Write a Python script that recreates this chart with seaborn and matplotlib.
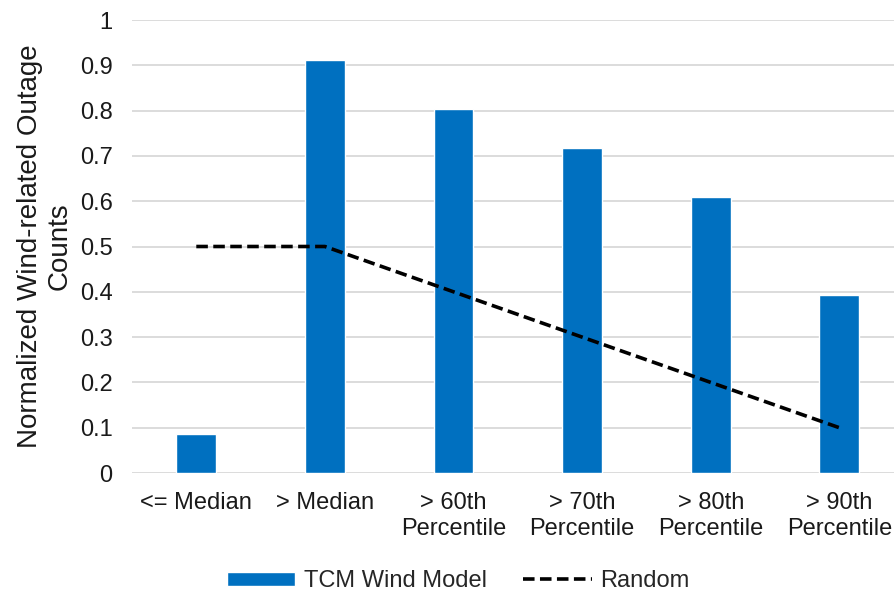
import matplotlib
matplotlib.use("Agg")
import matplotlib.pyplot as plt
import seaborn as sns
import pandas as pd
import numpy as np

categories = ["<= Median", "> Median", "> 60th\nPercentile", "> 70th\nPercentile",
              "> 80th\nPercentile", "> 90th\nPercentile"]
tcm_values = [0.087, 0.912, 0.804, 0.717, 0.609, 0.392]
random_values = [0.5, 0.5, 0.4, 0.3, 0.2, 0.1]
y_ticks = [0, 0.1, 0.2, 0.3, 0.4, 0.5, 0.6, 0.7, 0.8, 0.9, 1]
y_tick_labels = ["0", "0.1", "0.2", "0.3", "0.4", "0.5", "0.6", "0.7", "0.8", "0.9", "1"]

sns.set_style("white")
plt.rcParams['font.family'] = ['Liberation Sans', 'DejaVu Sans']

df = pd.DataFrame({"cat": categories, "tcm": tcm_values, "rnd": random_values})

fig = plt.figure(figsize=(8.95, 5.95), dpi=100)
ax = fig.add_axes([132/895, (595-473)/595, (895-132)/895, (473-20)/595])

bar_color = "#0070C0"
sns.barplot(data=df, x="cat", y="tcm", color=bar_color, width=0.31, ax=ax,
            saturation=1, label="TCM Wind Model", zorder=2)
sns.lineplot(x=np.arange(len(categories)), y=df["rnd"], ax=ax, color="black",
             linestyle=(0, (3.2, 1.5)), linewidth=2.6, label="Random", zorder=3)

FS = 17
ax.set_ylim(0, 1)
ax.set_xlim(-0.5, (895-132)/128.6 - 0.5)
ax.set_yticks(y_ticks)
ax.set_yticklabels(y_tick_labels)
ax.set_xticks(range(len(categories)))
ax.set_xticklabels(categories, fontsize=FS, color="#1a1a1a")
ax.tick_params(axis="y", labelsize=FS, colors="#1a1a1a", length=0, pad=14)
ax.tick_params(axis="x", length=0, pad=14)
ax.yaxis.grid(True, color="#d9d9d9", linewidth=1.3, zorder=0)
ax.set_axisbelow(True)
for s in ax.spines.values():
    s.set_visible(False)
ax.set_xlabel("")
ax.set_ylabel("Normalized Wind-related Outage\nCounts", fontsize=20, color="#1a1a1a",
              labelpad=5, linespacing=1.2)

handles, labels = ax.get_legend_handles_labels()
order = [labels.index("TCM Wind Model"), labels.index("Random")]
leg = ax.legend([handles[i] for i in order], [labels[i] for i in order],
                loc="center", bbox_to_anchor=((458-132)/(895-132), -(581-473)/453),
                ncol=2, frameon=False, fontsize=FS, handlelength=2.9,
                handleheight=0.55, columnspacing=1.55, handletextpad=0.35)

fig.savefig("out.png", dpi=100)
